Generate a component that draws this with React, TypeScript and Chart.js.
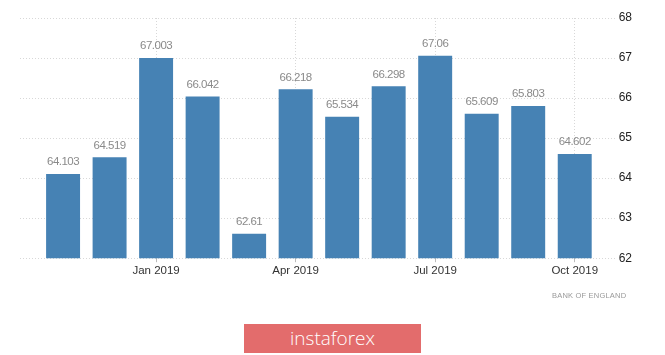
import React, { useEffect, useRef } from "react";
import { Chart, registerables } from "chart.js";

Chart.register(...registerables);

const months = [
  "Nov 2018", "Dec 2018", "Jan 2019", "Feb 2019", "Mar 2019", "Apr 2019",
  "May 2019", "Jun 2019", "Jul 2019", "Aug 2019", "Sep 2019", "Oct 2019",
];
const values = [64.103, 64.519, 67.003, 66.042, 62.61, 66.218, 65.534, 66.298, 67.06, 65.609, 65.803, 64.602];
const valueLabels = ["64.103", "64.519", "67.003", "66.042", "62.61", "66.218", "65.534", "66.298", "67.06", "65.609", "65.803", "64.602"];
const xTickIndexes = [2, 5, 8, 11];
const yMin = 62;
const yMax = 68;

const FONT = "'Liberation Sans', Arial, sans-serif";

const dataLabelPlugin = {
  id: "dataLabels",
  afterDatasetsDraw(chart: any) {
    const ctx = chart.ctx;
    const meta = chart.getDatasetMeta(0);
    ctx.save();
    ctx.font = `11.5px ${FONT}`;
    try { (ctx as any).letterSpacing = "-0.5px"; } catch (e) {}
    ctx.fillStyle = "#8a8a8a";
    ctx.textAlign = "center";
    ctx.textBaseline = "bottom";
    meta.data.forEach((bar: any, i: number) => {
      ctx.fillText(valueLabels[i], bar.x, bar.y - 6);
    });
    try { (ctx as any).letterSpacing = "0px"; } catch (e) {}
    ctx.restore();
  },
};

export default function App() {
  const ref = useRef<HTMLCanvasElement | null>(null);

  useEffect(() => {
    document.body.style.margin = "0";
    const chart = new Chart(ref.current as HTMLCanvasElement, {
      type: "bar",
      data: {
        datasets: [
          {
            data: values.map((v, i) => ({ x: i, y: v })),
            backgroundColor: "#4682B4",
            borderWidth: 0,
            barPercentage: 0.73,
            categoryPercentage: 1,
          },
        ],
      },
      options: {
        animation: false,
        responsive: false,
        maintainAspectRatio: false,
        layout: { padding: { left: 20, right: 30, top: 18, bottom: 75 } },
        plugins: { legend: { display: false }, tooltip: { enabled: false } },
        scales: {
          x: {
            type: "linear",
            offset: false,
            min: -0.926,
            max: 11.88,
            afterBuildTicks: (scale: any) => {
              scale.ticks = xTickIndexes.map((v) => ({ value: v }));
            },
            ticks: {
              autoSkip: false,
              maxRotation: 0,
              padding: 2,
              color: "#333",
              font: { family: FONT, size: 11.5 },
              callback: (v: any) => months[v as number] ?? "",
            },
            grid: {
              offset: false,
              color: "#d8d8d8",
              tickColor: "#bbb",
              tickLength: 4,
            },
            border: { display: false, dash: [1, 2] },
          },
          y: {
            position: "right",
            min: yMin,
            max: yMax,
            ticks: {
              stepSize: 1,
              padding: 3,
              color: "#222",
              font: { family: FONT, size: 12 },
            },
            grid: { color: "#d8d8d8", drawTicks: false },
            border: { display: false, dash: [1, 2] },
          },
        },
      },
      plugins: [dataLabelPlugin],
    } as any);
    return () => chart.destroy();
  }, []);

  return (
    <div style={{ position: "relative", width: 665, height: 355, background: "#fff" }}>
      <canvas ref={ref} width={665} height={355} style={{ display: "block" }} />
      <div
        style={{
          position: "absolute",
          left: 552,
          top: 291,
          fontFamily: "'Liberation Sans', Arial, sans-serif",
          fontSize: 7.5,
          color: "#999",
          letterSpacing: 0.2,
          whiteSpace: "nowrap",
        }}
      >
        BANK OF ENGLAND
      </div>
      <div
        style={{
          position: "absolute",
          left: 244,
          top: 324,
          width: 177,
          height: 29,
          background: "#e36c6c",
          color: "#fff",
          fontFamily: "'Open Sans', sans-serif",
          fontWeight: 300,
          fontSize: 19,
          lineHeight: "29px",
          textAlign: "center",
        }}
      >
        instaforex
      </div>
    </div>
  );
}
